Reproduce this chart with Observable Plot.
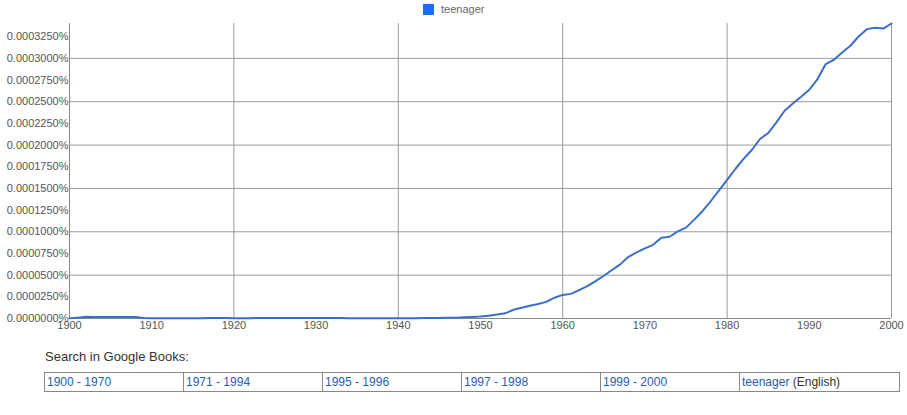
<!DOCTYPE html>
<html>
<head>
<meta charset="utf-8">
<script src="https://cdn.jsdelivr.net/npm/d3@7"></script>
<script src="https://cdn.jsdelivr.net/npm/@observablehq/plot@0.6"></script>
<style>
  html, body { margin: 0; padding: 0; background: #fff; }
  body { font-family: "Liberation Sans", Arial, Helvetica, sans-serif; }
  #wrap { position: relative; width: 907px; height: 415px; overflow: hidden; }
  #legend { position: absolute; left: 0; top: 0; width: 907px; height: 20px; }
  #legend .sw { position: absolute; left: 423px; top: 4px; width: 11px; height: 11px; background: #1a6cf0; }
  #legend .lbl { position: absolute; left: 441px; top: 2px; font-size: 11px; color: #666; line-height: 14px; }
  #chart { position: absolute; left: 0; top: 20px; }
  #search { position: absolute; left: 45px; top: 349px; font-size: 13px; color: #333; }
  #links { position: absolute; left: 44px; top: 372px; border-collapse: collapse; font-size: 12px; table-layout: fixed; }
  #links td { border: 1px solid #888; height: 18px; padding: 0 2px; width: 134px; color: #333; white-space: nowrap; overflow: hidden; }
  #links td.last { width: 155px; }
  #links a { color: #2a5db0; text-decoration: none; }
</style>
</head>
<body>
<div id="wrap">
  <div id="legend"><div class="sw"></div><div class="lbl" id="seriesName"></div></div>
  <div id="chart"></div>
  <div id="search">Search in Google Books:</div>
  <table id="links"><tr id="linkRow"></tr></table>
</div>
<script>
// ---- data (percent of all words) ----
const seriesName = "teenager";
const years = d3.range(1900, 2001);
const values = [
  0.0000002, 0.0000010, 0.0000020, 0.0000018, 0.0000018, 0.0000018, 0.0000018, 0.0000018, 0.0000018, 0.0000006,
  0.0000004, 0.0000004, 0.0000004, 0.0000003, 0.0000003, 0.0000004, 0.0000004, 0.0000005, 0.0000005, 0.0000005,
  0.0000004, 0.0000004, 0.0000004, 0.0000005, 0.0000005, 0.0000005, 0.0000005, 0.0000006, 0.0000006, 0.0000006,
  0.0000006, 0.0000005, 0.0000005, 0.0000005, 0.0000004, 0.0000004, 0.0000004, 0.0000004, 0.0000004, 0.0000004,
  0.0000004, 0.0000004, 0.0000004, 0.0000005, 0.0000005, 0.0000006, 0.0000008, 0.0000010, 0.0000013, 0.0000017,
  0.0000022, 0.0000033, 0.0000045, 0.0000060, 0.0000100, 0.0000123, 0.0000146, 0.0000167, 0.0000192, 0.0000240,
  0.0000272, 0.0000284, 0.0000328, 0.0000374, 0.0000432, 0.0000493, 0.0000559, 0.0000624, 0.0000712, 0.0000762,
  0.0000808, 0.0000850, 0.0000931, 0.0000943, 0.0001004, 0.0001048, 0.0001140, 0.0001237, 0.0001352, 0.0001475,
  0.0001598, 0.0001724, 0.0001840, 0.0001943, 0.0002070, 0.0002139, 0.0002262, 0.0002396, 0.0002480, 0.0002557,
  0.0002638, 0.0002761, 0.0002934, 0.0002984, 0.0003068, 0.0003145, 0.0003252, 0.0003337, 0.0003352, 0.0003344,
  0.0003402
];
const yTicks = [0, 0.000025, 0.00005, 0.000075, 0.0001, 0.000125, 0.00015, 0.000175, 0.0002, 0.000225, 0.00025, 0.000275, 0.0003, 0.000325];
const yGrid = [0.00005, 0.0001, 0.00015, 0.0002, 0.00025, 0.0003];
const xTicks = [1900, 1910, 1920, 1930, 1940, 1950, 1960, 1970, 1980, 1990, 2000];
const xGrid = [1920, 1940, 1960, 1980, 2000];
const linkLabels = ["1900 - 1970", "1971 - 1994", "1995 - 1996", "1997 - 1998", "1999 - 2000"];
const corpusLabel = "(English)";

const data = years.map((y, i) => ({year: y, value: values[i]}));

document.getElementById("seriesName").textContent = seriesName;

const chart = Plot.plot({
  width: 907,
  height: 325,
  marginTop: 3,
  marginBottom: 27,
  marginLeft: 69,
  marginRight: 16,
  style: {fontFamily: '"Liberation Sans", Arial, Helvetica, sans-serif', fontSize: "11px", background: "transparent"},
  x: {domain: [1900, 2000]},
  y: {domain: [0, d3.max(values)]},
  marks: [
    Plot.gridY(yGrid, {stroke: "#9a9a9a", strokeOpacity: 1}),
    Plot.gridX(xGrid, {stroke: "#9a9a9a", strokeOpacity: 1}),
    Plot.ruleX([1900], {stroke: "#888"}),
    Plot.ruleY([0], {stroke: "#888"}),
    Plot.line(data, {x: "year", y: "value", stroke: "#3a6fc8", strokeWidth: 2, curve: "linear"}),
    Plot.axisY(yTicks, {tickSize: 0, tickPadding: 1, tickFormat: d => d3.format(".7f")(d) + "%", fill: "#555", fontSize: 11, label: null}),
    Plot.axisX(xTicks, {tickSize: 0, tickPadding: 3, tickFormat: d => String(d), fill: "#555", fontSize: 11, label: null})
  ]
});
document.getElementById("chart").appendChild(chart);

const row = document.getElementById("linkRow");
linkLabels.forEach(t => {
  const td = document.createElement("td");
  const a = document.createElement("a");
  a.href = "#"; a.textContent = t;
  td.appendChild(a);
  row.appendChild(td);
});
const lastTd = document.createElement("td");
lastTd.className = "last";
const a2 = document.createElement("a");
a2.href = "#"; a2.textContent = seriesName;
lastTd.appendChild(a2);
lastTd.appendChild(document.createTextNode(" " + corpusLabel));
row.appendChild(lastTd);
</script>
</body>
</html>
